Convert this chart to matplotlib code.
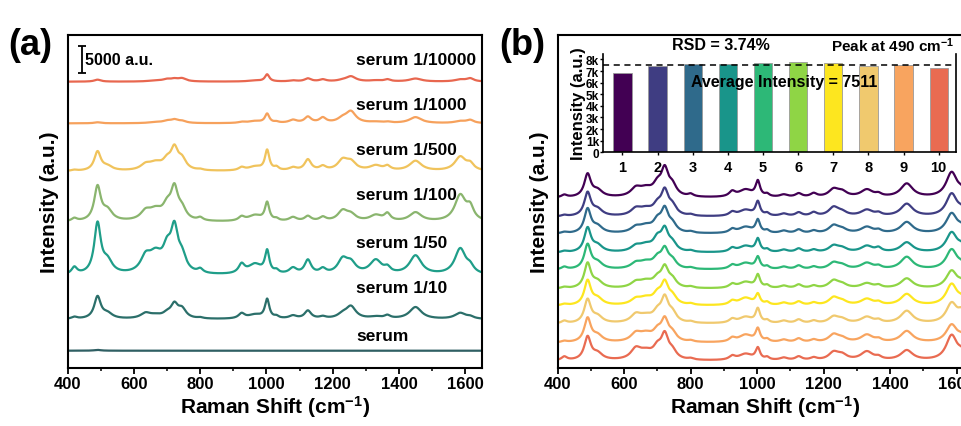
import numpy as np
import matplotlib
matplotlib.use("Agg")
import matplotlib.pyplot as plt
from matplotlib.ticker import MultipleLocator

plt.rcParams["font.family"] = ["Liberation Sans", "DejaVu Sans"]
plt.rcParams["font.weight"] = "bold"
plt.rcParams["axes.labelweight"] = "bold"
plt.rcParams["mathtext.fontset"] = "custom"
plt.rcParams["mathtext.rm"] = "Liberation Sans:bold"
plt.rcParams["mathtext.bf"] = "Liberation Sans:bold"
plt.rcParams["mathtext.default"] = "bf"

# Raman bands (cm-1) and their half widths
PEAK_POS = [420, 490, 520, 635, 665, 700, 722, 745, 800, 925, 965, 1002,
            1030, 1080, 1125, 1170, 1230, 1255, 1330, 1365, 1450, 1585, 1615]
PEAK_HWHM = [10, 12, 18, 18, 25, 15, 13, 15, 10, 11, 25, 8,
             8, 14, 12, 12, 18, 18, 22, 11, 22, 20, 13]

# panel (a): dilution series, bottom to top
A_LABELS = ["serum", "serum 1/10", "serum 1/50", "serum 1/100",
            "serum 1/500", "serum 1/1000", "serum 1/10000"]
A_COLORS = ["#2f5f63", "#2b6f6a", "#1f9e89", "#8ab56e",
            "#f0c35c", "#f6a15c", "#e8674f"]
A_OFFSETS = [3240, 9100, 17300, 27300, 36800, 45800, 53600]
A_HEIGHTS = [
    [0, 150, 0, 0, 0, 0, 0, 0, 0, 0, 0, 0, 0, 0, 0, 0, 0, 0, 0, 0, 0, 0, 0],
    [370, 4110, 935, 935, 560, 750, 2430, 1680, 190, 935, 750, 3550,
     370, 560, 1500, 370, 750, 2240, 370, 560, 2240, 1120, 370],
    [1310, 9350, 2240, 2620, 3370, 3740, 7480, 2800, 750, 1680, 1870, 4110,
     560, 1120, 2620, 935, 2620, 1870, 2620, 935, 3550, 4860, 1120],
    [560, 6360, 1870, 1500, 1870, 2240, 5610, 1870, 560, 750, 1120, 3370,
     370, 750, 935, 750, 1870, 1120, 1120, 1310, 1680, 4860, 2240],
    [190, 3550, 750, 935, 1310, 1500, 3740, 1870, 190, 560, 750, 3740,
     560, 560, 2060, 750, 1870, 1500, 935, 750, 1870, 2620, 1120],
    [0, 190, 0, 0, 190, 370, 560, 370, 0, 190, 370, 1680,
     190, 560, 1120, 935, 750, 2060, 190, 190, 1120, 370, 560],
    [0, 370, 0, 0, 190, 370, 370, 560, 0, 0, 190, 1310,
     0, 190, 560, 370, 190, 935, 190, 370, 560, 370, 560],
]

# panel (b): ten repeat measurements, top to bottom
B_COLORS = ["#420053", "#3f3d82", "#2f6a8b", "#19958a", "#2db877",
            "#8fd545", "#fde61f", "#f0c96e", "#f8a45f", "#e96b51"]
B_OFFSETS = [51000, 45300, 40200, 34500, 29400, 23700, 18600, 13200, 7500, 2100]
B_HEIGHTS = [
    [750, 6800, 1900, 2250, 2250, 3000, 7500, 3000, 750, 1500, 2250, 4500,
     750, 750, 1100, 1100, 2250, 1500, 2250, 750, 4100, 7500, 1500],
    [400, 7000, 1900, 1900, 1900, 2600, 6800, 2600, 400, 1100, 1900, 4100,
     750, 750, 1100, 1100, 2600, 1100, 1900, 750, 3750, 6800, 1500],
    [400, 7200, 1900, 1500, 1900, 3000, 6400, 2250, 400, 1100, 1900, 3750,
     750, 750, 1100, 750, 2250, 1100, 1900, 750, 3400, 6000, 1500],
    [400, 7200, 1900, 1500, 1900, 3400, 6000, 2250, 400, 1100, 1900, 3750,
     750, 750, 1100, 750, 1900, 1100, 1900, 1100, 3000, 6000, 1500],
    [750, 7300, 1900, 1500, 1900, 2600, 5300, 2250, 400, 1100, 1900, 3400,
     750, 750, 1100, 750, 1900, 1100, 1900, 750, 3750, 6000, 1100],
    [400, 7400, 1900, 1500, 1900, 2250, 5600, 2250, 400, 1100, 1900, 3750,
     750, 750, 1100, 750, 2250, 1100, 1500, 750, 3000, 5300, 1500],
    [400, 7300, 1900, 1500, 1900, 2600, 6000, 2250, 400, 1100, 2250, 3000,
     750, 750, 1100, 750, 2250, 1100, 1900, 750, 3400, 6400, 1500],
    [750, 7000, 1900, 2250, 1900, 2600, 6800, 2600, 400, 1100, 1900, 4100,
     750, 750, 1100, 750, 1900, 1100, 1900, 750, 3750, 6000, 3000],
    [400, 7100, 1900, 2250, 2250, 2600, 6000, 2250, 400, 1100, 2250, 3750,
     750, 750, 1100, 750, 2250, 1100, 2250, 750, 3400, 5300, 1500],
    [1100, 6900, 1900, 3000, 2250, 3000, 6800, 2250, 400, 1100, 1900, 3400,
     750, 750, 1100, 750, 2250, 1500, 2600, 750, 3000, 7500, 1900],
]

# inset: 490 cm-1 peak intensity per measurement
INSET_X = [1, 2, 3, 4, 5, 6, 7, 8, 9, 10]
INSET_VALUES = [6800, 7400, 7650, 7600, 7700, 7800, 7700, 7450, 7550, 7250]
INSET_MEAN = 7511

shift = np.arange(400, 1651, 1.0)


def spectrum(heights):
    y = np.zeros_like(shift)
    for p, w, h in zip(PEAK_POS, PEAK_HWHM, heights):
        y += h / (1 + ((shift - p) / w) ** 2)
    return y


def style_main(ax):
    ax.set_xlim(400, 1650)
    ax.xaxis.set_major_locator(MultipleLocator(200))
    ax.xaxis.set_minor_locator(MultipleLocator(100))
    ax.set_yticks([])
    ax.tick_params(axis="x", which="major", direction="out", length=4,
                   width=1.3, labelsize=12, pad=2)
    ax.tick_params(axis="x", which="minor", direction="out", length=2.5, width=1.1)
    for s in ax.spines.values():
        s.set_linewidth(1.5)
    ax.set_xlabel("Raman Shift (cm$^{-1}$)", fontsize=15, labelpad=1)
    ax.set_ylabel("Intensity (a.u.)", fontsize=15, labelpad=6)


fig = plt.figure(figsize=(9.62, 4.27), dpi=100)

# ---- (a)
ax1 = fig.add_axes([0.0704, 0.1358, 0.4304, 0.7806])
for lab, col, off, hts in zip(A_LABELS, A_COLORS, A_OFFSETS, A_HEIGHTS):
    ax1.plot(shift, off + spectrum(hts), color=col, lw=1.6)
ax1.set_ylim(0, 62400)
style_main(ax1)

A_LABEL_Y = [6000, 15000, 23500, 32500, 41000, 49400, 57800]
for lab, ly in zip(A_LABELS, A_LABEL_Y):
    ax1.text(1270, ly, lab, fontsize=12.5, fontweight="bold", va="center", ha="left")

ax1.errorbar([442], [57800], yerr=[2500], color="black", capsize=3,
             elinewidth=1.3, capthick=1.3)
ax1.text(452, 57800, "5000 a.u.", fontsize=11.5, fontweight="bold", va="center")
fig.text(0.009, 0.893, "(a)", fontsize=26, fontweight="bold", va="center")

# ---- (b)
ax2 = fig.add_axes([0.5797, 0.1358, 0.432, 0.7806])
for col, off, hts in zip(B_COLORS, B_OFFSETS, B_HEIGHTS):
    ax2.plot(shift, off + spectrum(hts), color=col, lw=1.6)
ax2.set_ylim(0, 100000)
style_main(ax2)
fig.text(0.519, 0.893, "(b)", fontsize=26, fontweight="bold", va="center")

# inset
ax3 = fig.add_axes([0.627, 0.641, 0.367, 0.231])
ax3.bar(INSET_X, INSET_VALUES, width=0.52, color=B_COLORS,
        edgecolor="#9a9a9a", linewidth=0.6)
ax3.axhline(INSET_MEAN, color="black", ls=(0, (4, 3)), lw=1.1)
ax3.set_xlim(0.45, 10.5)
ax3.set_ylim(0, 8500)
ax3.set_yticks(range(0, 8001, 1000))
ax3.set_yticklabels(["0"] + [f"{k}k" for k in range(1, 9)])
ax3.set_xticks(INSET_X)
ax3.tick_params(axis="y", direction="out", length=2.5, width=1.0,
                labelsize=8.5, pad=0.5)
ax3.tick_params(axis="x", direction="out", length=2.5, width=1.0,
                labelsize=10.5, pad=3)
ax3.spines["top"].set_visible(False)
for s in ["left", "bottom", "right"]:
    ax3.spines[s].set_linewidth(1.2)
ax3.patch.set_alpha(0)
ax3.set_ylabel("Intensity (a.u.)", fontsize=12, labelpad=0)
ax3.text(3.8, 9300, "RSD = 3.74%", fontsize=11.5, fontweight="bold", ha="center", va="center")
ax3.text(10.45, 9300, "Peak at 490 cm$^{-1}$", fontsize=11, fontweight="bold",
         ha="right", va="center")
ax3.text(5.6, 6100, "Average Intensity = 7511", fontsize=11.5, fontweight="bold",
         ha="center", va="center")

fig.savefig("out.png", dpi=100)
